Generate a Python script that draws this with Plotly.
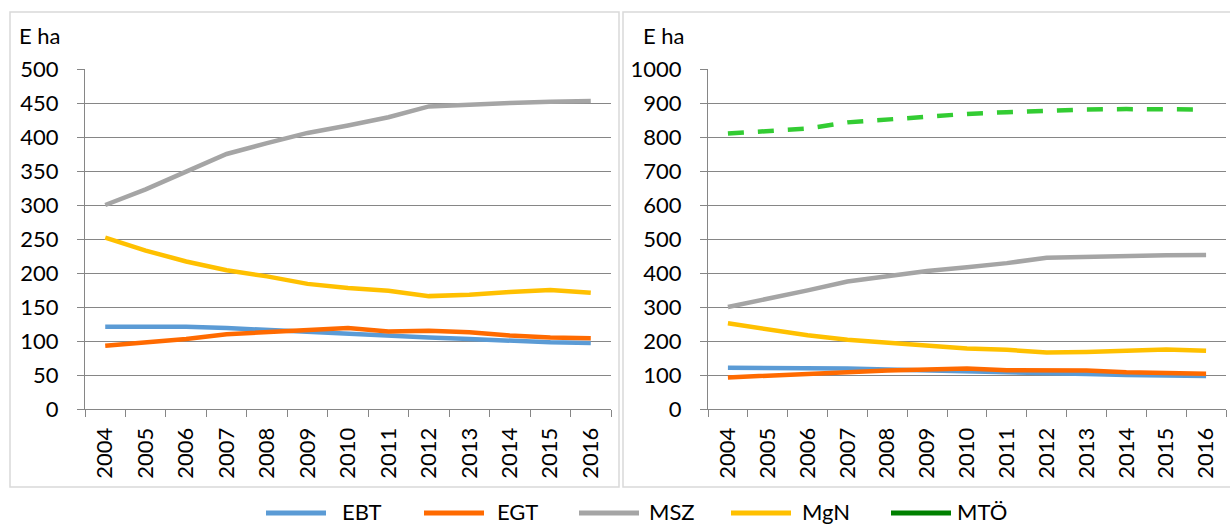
import plotly.graph_objects as go

years = [str(y) for y in range(2004, 2017)]
ebt = [121, 121, 121, 119, 116, 114, 111, 108, 105, 103, 100, 98, 97]
egt = [93, 98, 103, 110, 113, 116, 119, 114, 115, 113, 108, 105, 104]
msz = [300, 323, 349, 375, 391, 406, 417, 429, 445, 448, 450, 452, 453]
mgn = [252, 233, 217, 204, 195, 184, 178, 174, 166, 168, 172, 175, 171]
mto = [810, 816, 825, 843, 852, 861, 868, 873, 878, 881, 882, 882, 881]

left_ticks = list(range(0, 501, 50))
right_ticks = list(range(0, 1001, 100))

series = [("EBT", ebt, "#5B9BD5"), ("EGT", egt, "#FF6A00"),
          ("MSZ", msz, "#A5A5A5"), ("MgN", mgn, "#FFC000")]
legend_items = [("EBT", "#5B9BD5"), ("EGT", "#FF6A00"), ("MSZ", "#A5A5A5"),
                ("MgN", "#FFC000"), ("MTÖ", "#008000")]

W, H = 1230, 524
FONT = "Lato"
FS = 22

fig = go.Figure()
for name, vals, col in series:
    fig.add_trace(go.Scatter(x=years, y=vals, mode="lines", name=name,
                             line=dict(color=col, width=4.5), xaxis="x", yaxis="y"))
for name, vals, col in series:
    fig.add_trace(go.Scatter(x=years, y=vals, mode="lines", name=name,
                             line=dict(color=col, width=4.5), xaxis="x2", yaxis="y2"))
fig.add_trace(go.Scatter(x=years, y=mto, mode="lines", name="MTÖ",
                         line=dict(color="#33CC33", width=4.5, dash="16px,14px"),
                         xaxis="x2", yaxis="y2"))

def px(x):
    return x / W

def py(y):
    return (H - y) / H

grid = "#868686"
xcommon = dict(type="category", tickson="boundaries", ticks="outside", ticklen=7,
               tickcolor=grid, showline=True, linecolor=grid, linewidth=1,
               showgrid=False, tickangle=-90, range=[-0.5, 12.5], automargin=False,
               tickfont=dict(family=FONT, size=FS, color="black"), ticklabelstandoff=9)
ycommon = dict(showgrid=True, gridcolor=grid, gridwidth=1, ticks="outside", ticklen=7,
               tickcolor=grid, showline=True, linecolor=grid, linewidth=1,
               zeroline=False, automargin=False,
               tickfont=dict(family=FONT, size=FS, color="black"),
               ticklabelstandoff=14)

shapes = [
    dict(type="rect", xref="paper", yref="paper", x0=px(10), x1=px(619),
         y0=py(487), y1=py(12), line=dict(color="#D9D9D9", width=1.5)),
    dict(type="rect", xref="paper", yref="paper", x0=px(623), x1=px(1240),
         y0=py(487), y1=py(12), line=dict(color="#D9D9D9", width=1.5)),
]
annotations = [
    dict(text="E ha", xref="paper", yref="paper", x=px(17), y=py(35),
         xanchor="left", yanchor="middle", showarrow=False,
         font=dict(family=FONT, size=FS, color="black")),
    dict(text="E ha", xref="paper", yref="paper", x=px(641), y=py(35),
         xanchor="left", yanchor="middle", showarrow=False,
         font=dict(family=FONT, size=FS, color="black")),
]

# legend (drawn as shapes + text so the symbol lines match the reference length)
leg_x0 = [266, 424, 579, 731, 891]
leg_tx = [340, 495, 647, 800, 955]
for (name, col), x0, tx in zip(legend_items, leg_x0, leg_tx):
    shapes.append(dict(type="line", xref="paper", yref="paper", x0=px(x0), x1=px(x0 + 60),
                       y0=py(513), y1=py(513), line=dict(color=col, width=5)))
    annotations.append(dict(text=name, xref="paper", yref="paper", x=px(tx), y=py(511),
                            xanchor="left", yanchor="middle", showarrow=False,
                            font=dict(family=FONT, size=FS, color="black")))

fig.update_layout(
    width=W, height=H,
    margin=dict(l=0, r=0, t=0, b=0, autoexpand=False),
    paper_bgcolor="white", plot_bgcolor="white",
    showlegend=False,
    xaxis=dict(domain=[px(85), px(611)], anchor="y", **xcommon),
    yaxis=dict(domain=[py(409), py(69)], anchor="x", range=[0, 500],
               tickvals=left_ticks, **ycommon),
    xaxis2=dict(domain=[px(708), px(1226)], anchor="y2", **xcommon),
    yaxis2=dict(domain=[py(409), py(69)], anchor="x2", range=[0, 1000],
                tickvals=right_ticks, **ycommon),
    shapes=shapes,
    annotations=annotations,
)

fig.write_html("out.html", config={"displayModeBar": False},
               post_script="document.body.style.margin='0';document.body.style.overflow='hidden';")
